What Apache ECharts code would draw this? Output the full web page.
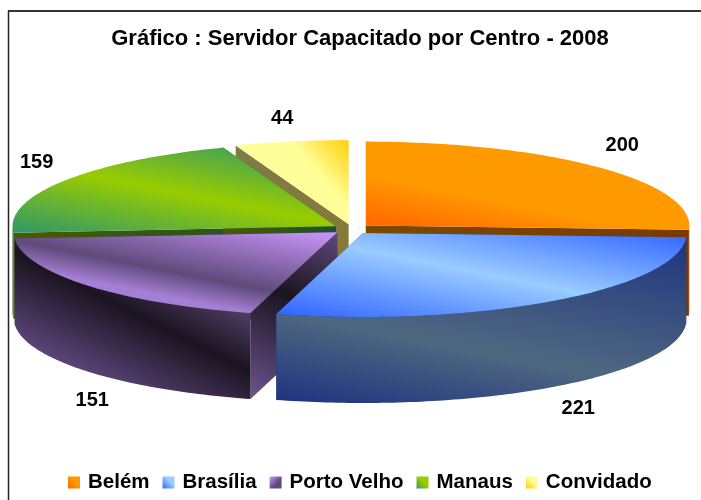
<!DOCTYPE html>
<html>
<head>
<meta charset="utf-8">
<title>Gráfico</title>
<script src="https://cdn.jsdelivr.net/npm/echarts@6/dist/echarts.min.js"></script>
<style>
  html, body { margin: 0; padding: 0; background: #fff; }
  #chart { width: 701px; height: 500px; }
</style>
</head>
<body>
<div id="chart"></div>
<script>
// dados
const categories = ['Belém', 'Brasília', 'Porto Velho', 'Manaus', 'Convidado'];
const servidores = [200, 221, 151, 159, 44];

// ordem de pintura: de trás para a frente
const paintOrder = [4, 0, 3, 2, 1];

// geometria da pizza "3D"
const cx = 352, cy = 229, rx = 323.5, ry = 84, depth = 86, explode = 19, squash = 0.26;

const toStops = stops => stops.map(s => ({offset: s[0], color: s[1]}));
// gradiente relativo à caixa do elemento
const grad = (x0, y0, x1, y1, stops) => new echarts.graphic.LinearGradient(x0, y0, x1, y1, toStops(stops));
// gradiente em pixels da tela (as faixas ficam quase horizontais, como no original)
const band = (x0, y0, x1, y1, stops) => new echarts.graphic.LinearGradient(x0, y0, x1, y1, toStops(stops), true);

const looks = [
  {
    top: band(366, 226, 376, 176, [[0, '#ff6600'], [1, '#ff9900']]),
    wall: '#7a3a00',
    cut: grad(0, 0, 1, 0, [[0, '#7a4a00'], [1, '#7a3a00']]),
    swatch: grad(0, 1, 1, 0, [[0, '#ff6600'], [0.6, '#ff9900'], [1, '#ff9900']]),
    label: [22, -22]
  },
  {
    top: band(276, 313, 307, 158, [[0, '#3366ff'], [0.5, '#99ccff'], [1, '#3366ff']]),
    wall: band(276, 400, 323, 165, [[0, '#1f3480'], [0.37, '#4f6880'], [1, '#1f3480']]),
    cut: '#1f3480',
    swatch: grad(0, 1, 1, 0, [[0, '#3366ff'], [0.6, '#99ccff'], [1, '#99ccff']]),
    label: [26, 107]
  },
  {
    top: band(249, 313, 268, 217, [[0, '#a57fd5'], [0.26, '#604a7b'], [1, '#cc99ff']]),
    wall: band(33, 347, 98, 219, [[0, '#5a4478'], [0.53, '#1a1420'], [1, '#604a7b']]),
    cut: band(337, 232, 255, 395, [[0, '#604a7b'], [0.43, '#1a1420'], [1, '#6a5088']]),
    swatch: grad(0, 0, 1, 1, [[0, '#cc99ff'], [0.6, '#604a7b'], [1, '#604a7b']]),
    label: [5, 115]
  },
  {
    top: band(14, 230, 41, 95, [[0, '#339966'], [0.5, '#99cc00'], [1, '#339966']]),
    wall: '#2a5a3a',
    cut: grad(0, 0, 1, 0, [[0, '#4a5a00'], [1, '#1c4f33']]),
    swatch: grad(1, 0, 0, 1, [[0, '#99cc00'], [0.45, '#99cc00'], [1, '#339966']]),
    label: [-27, -19]
  },
  {
    top: band(350, 138, 290, 190, [[0, '#ffcc00'], [0.6, '#ffff99'], [1, '#ffff99']]),
    wall: '#8a7a30',
    cut: grad(0, 0, 1, 1, [[0, '#7f7a4a'], [1, '#8a7a30']]),
    swatch: grad(0, 1, 1, 0, [[0, '#ffcc00'], [0.6, '#ffff99'], [1, '#ffff99']]),
    label: [-9, -23]
  }
];

const total = servidores.reduce((a, b) => a + b, 0);
const rad = d => d * Math.PI / 180;

// ângulo inicial de cada fatia, a partir das 12 horas em sentido horário
const startAngles = servidores.map((v, i) =>
  servidores.slice(0, i).reduce((a, b) => a + b, 0) / total * 360
);

function rim(apex, t, drop) {
  return [apex[0] + rx * Math.sin(rad(t)), apex[1] - ry * Math.cos(rad(t)) + (drop || 0)];
}

function arc(apex, from, to, drop) {
  const pts = [];
  const n = Math.max(1, Math.ceil(to - from));
  for (let k = 0; k <= n; k++) {
    pts.push(rim(apex, from + (to - from) * k / n, drop));
  }
  return pts;
}

function poly(points, fill) {
  return {type: 'polygon', shape: {points: points}, style: {fill: fill}, silent: true};
}

function cutWall(apex, t, fill) {
  const e = rim(apex, t);
  return poly([apex, e, [e[0], e[1] + depth], [apex[0], apex[1] + depth]], fill);
}

function sliceRenderer(i) {
  return function (params, api) {
    const value = api.value(0);
    const from = startAngles[i];
    const to = from + value / total * 360;
    const mid = (from + to) / 2;
    const apex = [
      cx + explode * Math.sin(rad(mid)),
      cy - explode * squash * Math.cos(rad(mid))
    ];
    const look = looks[i];
    const children = [cutWall(apex, from, look.cut), cutWall(apex, to, look.cut)];

    // parede externa: só a parte voltada para a frente
    const a = Math.max(from, 90), b = Math.min(to, 270);
    if (b > a) {
      children.push(poly(arc(apex, a, b).concat(arc(apex, a, b, depth).reverse()), look.wall));
    }
    children.push(poly([apex].concat(arc(apex, from, to)), look.top));

    const p = rim(apex, mid);
    children.push({
      type: 'text',
      silent: true,
      z2: 100,
      style: {
        text: String(value),
        x: p[0] + look.label[0],
        y: p[1] + look.label[1],
        align: 'center',
        verticalAlign: 'middle',
        fill: '#000',
        font: 'bold 20px "Liberation Sans", Arial, sans-serif'
      }
    });
    return {type: 'group', children: children};
  };
}

const chart = echarts.init(document.getElementById('chart'), null, {renderer: 'canvas'});

chart.setOption({
  animation: false,
  backgroundColor: '#fff',
  title: {
    text: 'Gráfico : Servidor Capacitado por Centro - 2008',
    left: 355,
    top: 23,
    textAlign: 'center',
    textStyle: {fontFamily: '"Liberation Sans", Arial, sans-serif', fontWeight: 'bold', fontSize: 22, color: '#000'}
  },
  legend: {
    left: 68,
    top: 472,
    padding: 0,
    itemWidth: 12,
    itemHeight: 12,
    itemGap: 13,
    selectedMode: false,
    textStyle: {
      fontFamily: '"Liberation Sans", Arial, sans-serif',
      fontWeight: 'bold',
      fontSize: 20.5,
      color: '#000',
      padding: [0, 0, 0, 3]
    },
    data: categories.map((name, i) => ({name: name, icon: 'rect', itemStyle: {color: looks[i].swatch}}))
  },
  graphic: [
    {type: 'line', shape: {x1: 8.5, y1: 11, x2: 8.5, y2: 500}, style: {stroke: '#222', lineWidth: 1.5}, silent: true},
    {type: 'line', shape: {x1: 8, y1: 11, x2: 701, y2: 11}, style: {stroke: '#333', lineWidth: 2}, silent: true}
  ],
  series: paintOrder.map(i => ({
    type: 'custom',
    name: categories[i],
    coordinateSystem: 'none',
    renderItem: sliceRenderer(i),
    itemStyle: {color: looks[i].swatch},
    data: [[servidores[i]]]
  }))
});
</script>
</body>
</html>
